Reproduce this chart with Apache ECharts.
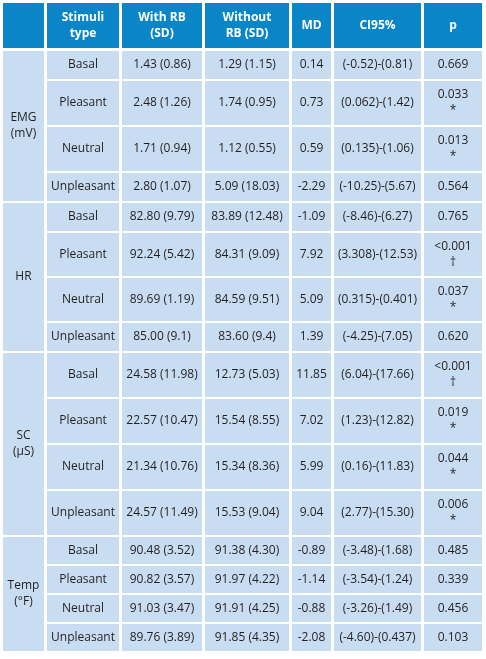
<!DOCTYPE html>
<html><head><meta charset="utf-8">
<script src="https://cdn.jsdelivr.net/npm/echarts@6/dist/echarts.min.js"></script>
<style>html,body{margin:0;padding:0;background:#fff}#c{width:486px;height:659px}</style>
</head><body><div id="c"></div>
<script>
const headers = ["", "Stimuli\ntype", "With RB\n(SD)", "Without\nRB (SD)", "MD", "CI95%", "p"];
const groups = ["EMG\n(mV)", "HR", "SC\n(μS)", "Temp\n(°F)"];
const stimuli = ["Basal", "Pleasant", "Neutral", "Unpleasant"];
const withRB = [
  ["1.43 (0.86)", "2.48 (1.26)", "1.71 (0.94)", "2.80 (1.07)"],
  ["82.80 (9.79)", "92.24 (5.42)", "89.69 (1.19)", "85.00 (9.1)"],
  ["24.58 (11.98)", "22.57 (10.47)", "21.34 (10.76)", "24.57 (11.49)"],
  ["90.48 (3.52)", "90.82 (3.57)", "91.03 (3.47)", "89.76 (3.89)"]];
const withoutRB = [
  ["1.29 (1.15)", "1.74 (0.95)", "1.12 (0.55)", "5.09 (18.03)"],
  ["83.89 (12.48)", "84.31 (9.09)", "84.59 (9.51)", "83.60 (9.4)"],
  ["12.73 (5.03)", "15.54 (8.55)", "15.34 (8.36)", "15.53 (9.04)"],
  ["91.38 (4.30)", "91.97 (4.22)", "91.91 (4.25)", "91.85 (4.35)"]];
const md = [
  ["0.14", "0.73", "0.59", "-2.29"],
  ["-1.09", "7.92", "5.09", "1.39"],
  ["11.85", "7.02", "5.99", "9.04"],
  ["-0.89", "-1.14", "-0.88", "-2.08"]];
const ci = [
  ["(-0.52)-(0.81)", "(0.062)-(1.42)", "(0.135)-(1.06)", "(-10.25)-(5.67)"],
  ["(-8.46)-(6.27)", "(3.308)-(12.53)", "(0.315)-(0.401)", "(-4.25)-(7.05)"],
  ["(6.04)-(17.66)", "(1.23)-(12.82)", "(0.16)-(11.83)", "(2.77)-(15.30)"],
  ["(-3.48)-(1.68)", "(-3.54)-(1.24)", "(-3.26)-(1.49)", "(-4.60)-(0.437)"]];
const pval = [
  ["0.669", "0.033\n*", "0.013\n*", "0.564"],
  ["0.765", "<0.001\n†", "0.037\n*", "0.620"],
  ["<0.001\n†", "0.019\n*", "0.044\n*", "0.006\n*"],
  ["0.485", "0.339", "0.456", "0.103"]];

// layout
const colX = [3, 47, 122, 205, 292, 334, 424, 482];
const rowH = [[28,44,44,28],[28,43,43,28],[44,44,44,44],[27,27,27,27]];
const headTop = 3, headBot = 48, bodyTop = 51, gap = 2;
const HEAD = '#0a86c8', CELL = '#c9ddf2', TXT = '#231f20';
const FONT = '"Open Sans", "Noto Sans", sans-serif';
const els = [];
function cell(x0, x1, y0, y1, fill, text, color, bold) {
  els.push({type:'rect', shape:{x:x0, y:y0, width:x1-x0, height:y1-y0}, style:{fill}});
  if (text) els.push({type:'text', x:(x0+x1)/2, y:(y0+y1)/2, style:{text, fill:color, font:(bold?'bold ':'')+'12px '+FONT, align:'center', verticalAlign:'middle', lineHeight:16}});
}
for (let c = 0; c < 7; c++) cell(colX[c], colX[c+1]-(c<6?3:0), headTop, headBot, HEAD, headers[c], '#fff', true);
let y = bodyTop;
for (let g = 0; g < 4; g++) {
  const gy0 = y;
  for (let r = 0; r < 4; r++) {
    const h = rowH[g][r];
    const vals = [stimuli[r], withRB[g][r], withoutRB[g][r], md[g][r], ci[g][r], pval[g][r]];
    for (let c = 1; c < 7; c++) cell(colX[c], colX[c+1]-(c<6?3:0), y, y+h, CELL, vals[c-1], TXT, false);
    y += h + gap;
  }
  cell(colX[0], colX[1]-3, gy0, y-gap, CELL, groups[g], TXT, false);
}
const chart = echarts.init(document.getElementById('c'));
chart.setOption({animation:false, graphic:{elements:els}});
</script></body></html>
